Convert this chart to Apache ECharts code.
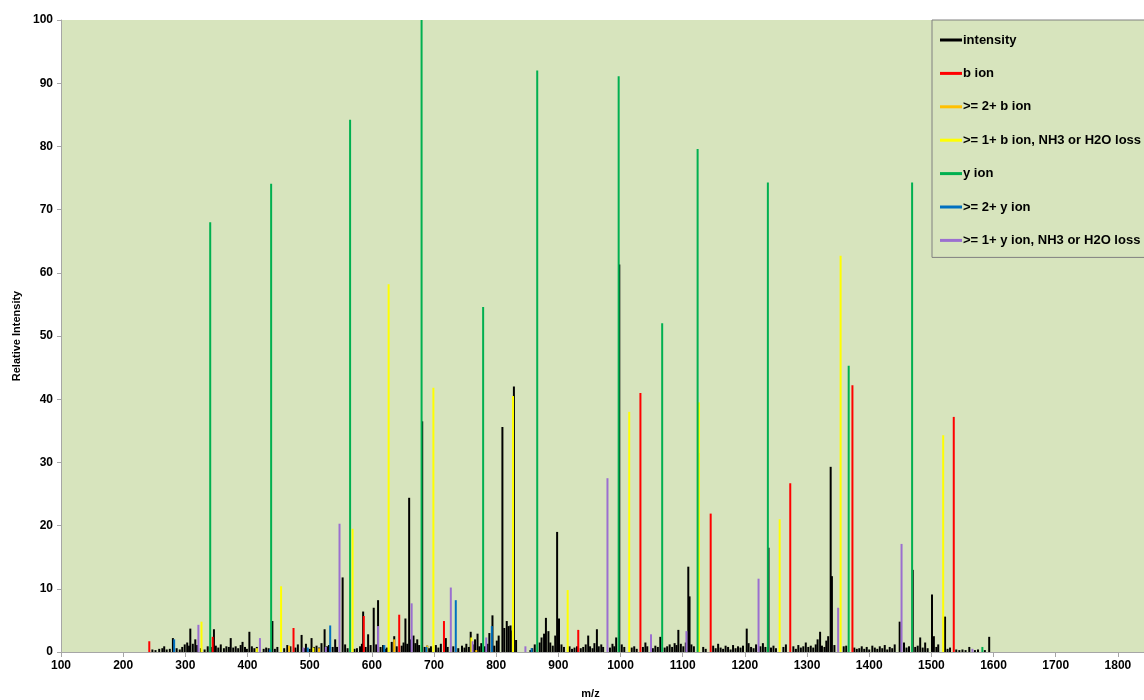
<!DOCTYPE html>
<html>
<head>
<meta charset="utf-8">
<script src="https://cdn.jsdelivr.net/npm/echarts@6/dist/echarts.min.js"></script>
<style>html,body{margin:0;padding:0;background:#fff;}#c{width:1144px;height:700px;}</style>
</head>
<body>
<div id="c"></div>
<script>
const seriesNames = ['intensity','b ion','>= 2+ b ion','>= 1+ b ion, NH3 or H2O loss','y ion','>= 2+ y ion','>= 1+ y ion, NH3 or H2O loss'];
const xTicks = [100,200,300,400,500,600,700,800,900,1000,1100,1200,1300,1400,1500,1600,1700,1800];
const yTicks = [0,10,20,30,40,50,60,70,80,90,100];

const intensity = [
[247,0.4],[252,0.3],[258,0.5],[263,0.6],[266,0.9],[270,0.4],[275,0.5],[280,2.2],[286,0.6],[291,0.4],[295,0.8],[299,1.2],[303,1.5],[306,1.0],[308,3.7],[312,1.3],[316,2.0],[319,1.1],[325,0.6],[331,0.4],[336,0.9],
[341,0.8],[346,3.6],[349,1.0],[353,0.7],[357,1.2],[362,0.6],[366,0.9],[370,0.8],[373,2.2],[377,0.7],[381,0.9],[385,0.6],[389,1.1],[392,1.6],[396,0.8],[399,0.5],[403,3.2],[407,0.9],[411,0.6],[415,0.8],[426,0.5],[430,0.7],[434,0.6],[440,4.9],
[444,0.5],[448,0.8],[459,0.6],[464,1.1],[469,0.9],[477,0.7],[481,1.2],[487,2.7],[491,0.6],[494,1.3],[500,0.5],[503,2.2],[507,0.8],[511,1.0],[515,0.7],[519,1.4],[524,3.6],[528,0.9],[531,1.1],[537,0.8],[541,2.0],[544,0.8],[553,11.8],[557,1.2],[561,0.6],
[572,0.5],[576,0.6],[581,0.9],[584,1.3],[586,6.4],[590,0.8],[594,2.8],[598,1.1],[603,7.0],[607,1.2],[610,8.2],[614,0.8],[618,1.1],[622,0.5],[624,0.7],[632,1.6],[636,2.5],[640,0.9],[648,1.0],[651,1.5],[654,5.3],[657,1.3],[660,24.4],[663,2.0],[667,2.6],[670,1.4],[673,2.0],[676,1.1],[681,36.5],
[685,0.8],[689,1.0],[692,0.6],[695,0.9],[703,1.1],[707,0.7],[711,1.3],[719,2.2],[722,0.8],[731,0.9],[739,0.6],[745,1.0],[749,0.7],[752,1.3],[756,0.8],[759,3.2],[763,1.2],[766,2.0],[770,2.9],[773,0.9],[776,1.4],[782,0.9],[786,1.3],[789,3.0],[794,5.8],[797,1.0],[801,1.8],[804,2.6],[810,35.6],[813,3.8],[817,4.9],[820,4.1],[823,4.2],[826,3.4],[828.5,42.0],
[832,1.9],[855,0.3],[858,0.6],[862,1.2],[870,1.5],[873,2.3],[877,2.9],[880,5.4],[884,3.3],[887,1.5],[891,1.0],[895,2.6],[898,19.0],[901,5.3],[905,1.2],[909,0.8],[918,0.9],[922,0.5],[926,0.7],[930,0.9],[936,0.6],[940,0.8],[944,1.2],[948,2.6],[951,0.9],[955,0.6],[958,1.4],[962,3.6],[965,0.9],[969,1.2],[972,0.8],[983,0.7],[987,1.3],[990,0.9],[993,2.3],[998,61.3],
[1002,1.2],[1006,0.8],[1018,0.7],[1022,0.9],[1026,0.5],[1036,0.8],[1040,1.5],[1043,0.9],[1052,0.6],[1056,1.0],[1060,0.8],[1064,2.4],[1071,0.7],[1075,0.9],[1079,1.2],[1083,0.8],[1087,1.4],[1090,1.1],[1093,3.5],[1097,1.3],[1101,0.9],[1105,1.5],[1109,13.5],[1111,8.8],[1114,1.2],[1118,0.9],[1125,31.5],
[1133,0.8],[1137,0.5],[1149,1.0],[1153,0.6],[1157,1.3],[1161,0.7],[1165,0.5],[1169,1.0],[1173,0.8],[1177,0.4],[1181,1.1],[1185,0.6],[1189,0.9],[1193,0.7],[1197,1.0],[1203,3.7],[1206,1.4],[1210,0.8],[1214,0.6],[1218,1.2],[1225,0.9],[1229,1.4],[1233,0.8],[1238,16.5],[1242,0.7],[1246,1.0],[1250,0.6],
[1262,0.8],[1266,1.2],[1278,0.9],[1282,0.5],[1286,1.1],[1290,0.7],[1294,0.9],[1298,1.5],[1302,0.8],[1306,1.0],[1310,0.7],[1314,1.2],[1317,2.0],[1321,3.2],[1324,1.0],[1328,0.8],[1331,1.8],[1334,2.5],[1338,29.3],[1340,12.0],[1344,1.1],[1359,0.9],[1363,1.0],[1376,0.7],[1380,0.5],
[1384,0.6],[1388,0.9],[1392,0.5],[1396,0.8],[1400,0.4],[1405,1.0],[1409,0.7],[1413,0.5],[1417,0.9],[1421,0.6],[1425,1.1],[1429,0.4],[1433,0.8],[1437,0.6],[1441,1.2],[1449,4.8],[1456,1.5],[1460,0.7],[1464,0.9],[1470,13.0],[1474,0.8],[1478,1.0],[1482,2.3],[1486,0.7],[1490,1.5],[1494,0.6],[1501,9.1],[1504,2.5],[1508,0.8],[1511,1.2],
[1522,5.6],[1526,0.5],[1530,0.7],[1540,0.4],[1545,0.3],[1550,0.4],[1555,0.3],[1561,0.8],[1570,0.3],[1575,0.4],[1586,0.3],[1593,2.4]
];
const bIon = [[242,1.7],[344,2.4],[474,3.8],[587,5.7],[644,5.9],[716,4.9],[932,3.5],[1032,41.0],[1145,21.9],[1273,26.7],[1373,42.2],[1536,37.2]];
const bIon2 = [[467,1.0],[515,0.6],[636,2.0],[689,1.0],[768,0.3]];
const bIonLoss = [[326,4.8],[415,0.6],[454,10.4],[506,0.7],[569,19.5],[627,58.2],[699,41.8],[760,2.3],[827,40.5],[915,9.8],[1014,38.0],[1126,39.5],[1256,21.0],[1354,62.7],[1519,34.3]];
const yIon = [[340,68.0],[438,74.1],[565,84.2],[680,100],[779,54.6],[866,92.0],[997,91.1],[1067,52.0],[1124,79.6],[1237,74.3],[1367,45.3],[1469,74.3],[1582,0.8]];
const yIon2 = [[282,2.0],[436,0.4],[497,0.7],[533,4.2],[620,1.1],[688,0.8],[735,8.2],[793,4.1],[857,0.6]];
const yIonLoss = [[321,4.3],[420,2.2],[490,0.7],[526,0.8],[548,20.3],[610,4.1],[664,7.7],[727,10.2],[762,1.7],[784,2.3],[847,0.9],[979,27.5],[1049,2.8],[1106,3.3],[1222,11.6],[1350,7.0],[1452,17.1],[1566,0.5]];

const colors = ['#000000','#ff0000','#ffc000','#ffff00','#00b050','#0070c0','#9b6fd0'];
const datasets = [intensity,bIon,bIon2,bIonLoss,yIon,yIon2,yIonLoss];

const chart = echarts.init(document.getElementById('c'), null, {renderer:'canvas'});
const font = 'Liberation Sans, Arial, sans-serif';
chart.setOption({
  animation:false,
  backgroundColor:'#ffffff',
  grid:{left:61,right:0,top:20,bottom:48,show:true,backgroundColor:'#d7e4bd',borderWidth:0,containLabel:false,outerBoundsMode:'none'},
  legend:{
    orient:'vertical', left:932, top:20,
    data:seriesNames,
    backgroundColor:'#d7e4bd', borderColor:'#808080', borderWidth:1, borderRadius:0,
    padding:[13,8,10,8],
    itemWidth:22, itemHeight:3, itemGap:19.4,
    icon:'rect',
    textStyle:{fontFamily:font,fontSize:13,fontWeight:'bold',color:'#000',lineHeight:14,padding:[0,0,0,-4]}
  },
  xAxis:{
    type:'value', min:100, max:1842, interval:100,
    name:'m/z', nameLocation:'middle', nameGap:36,
    nameTextStyle:{fontFamily:font,fontSize:11,fontWeight:'bold',color:'#000',padding:[0,24,0,0]},
    axisLine:{show:true,onZero:false,lineStyle:{color:'#a6a6a6',width:1}},
    axisTick:{show:true,length:5,lineStyle:{color:'#a6a6a6'}},
    axisLabel:{showMaxLabel:false,fontFamily:font,fontSize:12,fontWeight:'bold',color:'#000',margin:8,
      formatter:function(v){return xTicks.indexOf(v)>=0?String(v):'';}},
    splitLine:{show:false}
  },
  yAxis:{
    type:'value', min:0, max:100, interval:10,
    name:'Relative Intensity', nameLocation:'middle', nameGap:38,
    nameTextStyle:{fontFamily:font,fontSize:11,fontWeight:'bold',color:'#000'},
    axisLine:{show:true,lineStyle:{color:'#a6a6a6',width:1}},
    axisTick:{show:true,length:4,lineStyle:{color:'#a6a6a6'}},
    axisLabel:{fontFamily:font,fontSize:12,fontWeight:'bold',color:'#000',margin:8,
      formatter:function(v){return yTicks.indexOf(v)>=0?String(v):'';}},
    splitLine:{show:false}
  },
  series: datasets.map(function(d,i){
    return {
      name:seriesNames[i], type:'bar', data:d,
      barWidth:2, barGap:'-100%',
      itemStyle:{color:colors[i]},
      emphasis:{disabled:true}
    };
  })
});
</script>
</body>
</html>
